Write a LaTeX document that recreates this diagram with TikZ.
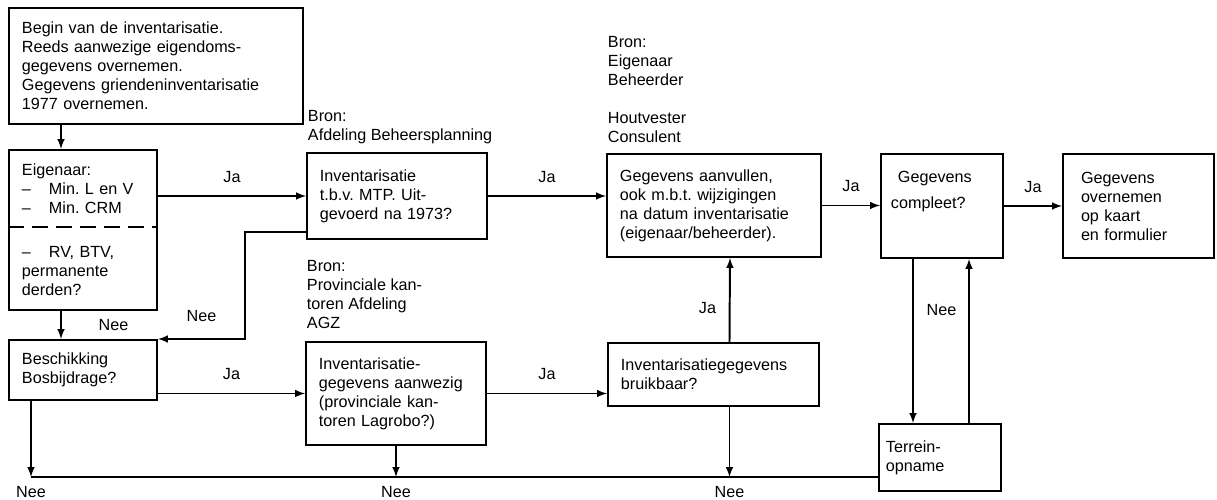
\documentclass[tikz,border=0pt]{standalone}
\usepackage{fontspec}
\setmainfont{Liberation Sans}
\usepackage{tikz}
\usetikzlibrary{arrows,calc,positioning}
\frenchspacing
\tikzset{
	box/.style={draw, anchor=north west, align=left, inner xsep=3.25mm, inner ysep=2pt},
	bron/.style={anchor=north west, align=left, inner sep=0pt}
}
\begin{document}
\begin{tikzpicture}[x=0.25mm, y=-0.25mm, >=latex, line width=1.4pt, font=\fontsize{11.5}{13.5}\selectfont]
				\useasboundingbox (0,0) rectangle (1217,500);
				\node[box, text width=67mm, minimum height=29mm] (begin) at (8,7) {Begin van de inventarisatie.\\Reeds aanwezige eigendoms-\\gegevens overnemen.\\Gegevens griendeninventarisatie\\1977 overnemen.};
				\node[box, text width=30.5mm, minimum height=40mm] (eigen) at (8,149) {Eigenaar:\\\makebox[6.75mm][l]{–}Min. L en V\\\makebox[6.75mm][l]{–}Min. CRM\\[6.25mm]\makebox[6.75mm][l]{–}RV, BTV,\\permanente\\derden?};
				\node[box, text width=30.5mm, minimum height=15mm] (besch) at (8,339) {Beschikking\\Bosbijdrage?};
				\node[box, text width=38.5mm, minimum height=21.5mm] (mtp) at (306,152) {Inventarisatie\\t.b.v. MTP. Uit-\\gevoerd na 1973?};
				\node[box, text width=38.5mm, minimum height=25.75mm] (invg) at (305,341) {Inventarisatie-\\gegevens aanwezig\\(provinciale kan-\\toren Lagrobo?)};
				\node[box, text width=47mm, minimum height=25.75mm] (aanv) at (606,153) {Gegevens aanvullen,\\ook m.b.t. wijzigingen\\na datum inventarisatie\\(eigenaar/beheerder).};
				\node[box, text width=46.25mm, minimum height=15.75mm] (bruik) at (607,342) {Inventarisatiegegevens\\bruikbaar?};
				\node[box, inner xsep=2.5mm, text width=25.5mm, minimum height=26mm] (comp) at (880,153) {\hspace*{1.75mm}Gegevens\\[1.75mm]compleet?\\[3.25mm]\mbox{}};
				\node[box, inner xsep=4.5mm, text width=28.75mm, minimum height=26mm] (final) at (1062,153) {Gegevens\\overnemen\\op kaart\\en formulier};
				\node[box, inner xsep=1.75mm, text width=27mm, minimum height=16.75mm] (terr) at (878,423) {Terrein-\\opname};
				\node[bron] (bronmtp) at (307,109) {Bron:\\Afdeling Beheersplanning};
				\node[bron] (bronaanv) at (607,35) {Bron:\\Eigenaar\\Beheerder\\[4.75mm]Houtvester\\Consulent};
				\node[bron] (broninvg) at (306,259) {Bron:\\Provinciale kan-\\toren Afdeling\\AGZ};
				\draw[dash pattern=on 4mm off 2mm] ([yshift=-19.5mm]eigen.north west) -- ([yshift=-19.5mm]eigen.north east);
				\coordinate (vl) at (61,0);
				\coordinate (bl) at (31,477);
				\draw[->] (begin.south -| vl) -- (eigen.north -| vl);
				\draw[->] (eigen.south -| vl) -- node[right=8mm] (nee1) {Nee} (besch.north -| vl);
				\draw[->] ([yshift=2mm]mtp.south west) -- ++(-61,0) |- node[pos=0.75, above=3mm] (nee2) {Nee} (besch.north east);
				\foreach \a/\b in {eigen/mtp, besch/invg}
				\draw[->] (\b.west -| \a.east) -- node[above=2mm] (ja-\a) {Ja} (\b.west);
				\foreach \a/\b in {mtp/aanv, aanv/comp, comp/final, invg/bruik}
				\draw[->] (\a.east) -- node[above=2mm] (ja-\a) {Ja} (\a.east -| \b.west);
				\draw[->] ([xshift=4mm]bruik.north) -- node[pos=0.4, left=2mm] (ja-bruik) {Ja} ([xshift=4mm]aanv.south);
				\draw[->] (besch.south -| bl) -- (bl) node[below=1mm] (nee3) {Nee};
				\draw (bl) -- (bl -| terr.west);
				\draw[->] (invg.south) -- (invg.south |- bl) node[below=1mm] (nee4) {Nee};
				\draw[->] ([xshift=4mm]bruik.south) -- ([xshift=4mm]bruik.south |- bl) node[below=1mm] (nee5) {Nee};
				\draw[->] ([xshift=-7.25mm]comp.south) -- node[pos=0.31, right=2mm] (nee6) {Nee} ([xshift=-7.25mm]comp.south |- terr.north);
				\draw[->] ([xshift=7.25mm]terr.north) -- ([xshift=7.25mm]terr.north |- comp.south);
\end{tikzpicture}
\end{document}
